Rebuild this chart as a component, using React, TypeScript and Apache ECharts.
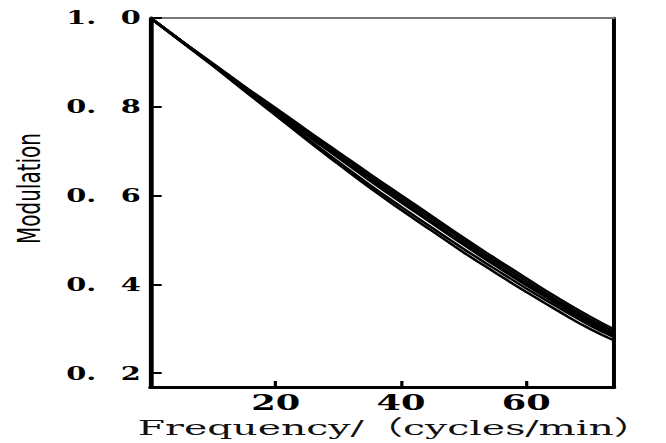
import React, { useEffect, useRef } from "react";
import * as echarts from "echarts";

const frequencies = [0, 5, 10, 15, 20, 25, 30, 35, 40, 45, 50, 55, 60, 65, 70, 74];
const curveA = [1.0, 0.948, 0.897, 0.846, 0.797, 0.747, 0.698, 0.649, 0.601, 0.553, 0.505, 0.459, 0.414, 0.370, 0.329, 0.299];
const curveB = [1.0, 0.948, 0.896, 0.844, 0.794, 0.743, 0.693, 0.643, 0.595, 0.547, 0.499, 0.453, 0.408, 0.364, 0.323, 0.294];
const curveC = [1.0, 0.947, 0.895, 0.842, 0.791, 0.739, 0.689, 0.638, 0.589, 0.541, 0.493, 0.447, 0.402, 0.359, 0.318, 0.289];
const curveD = [1.0, 0.947, 0.894, 0.841, 0.789, 0.736, 0.685, 0.634, 0.585, 0.537, 0.489, 0.443, 0.398, 0.355, 0.314, 0.286];
const curveE = [1.0, 0.947, 0.893, 0.838, 0.784, 0.729, 0.676, 0.624, 0.575, 0.527, 0.480, 0.435, 0.391, 0.349, 0.309, 0.281];
const curveF = [1.0, 0.946, 0.892, 0.836, 0.781, 0.725, 0.671, 0.618, 0.568, 0.520, 0.472, 0.427, 0.383, 0.341, 0.301, 0.274];
const curves = [curveA, curveB, curveC, curveD, curveE, curveF];

const xTicks = [20, 40, 60];
const yTicks = [0.2, 0.4, 0.6, 0.8, 1.0];
const xName = "Frequency/（cycles/min）";
const yName = "Modulation";

const FULL_W = 666;
const BASE_W = 416;
const STRETCH = FULL_W / BASE_W;

export default function App() {
  const ref = useRef<HTMLDivElement>(null);
  useEffect(() => {
    if (!ref.current) return;
    const chart = echarts.init(ref.current, undefined, { renderer: "svg" });
    const serif = "'DejaVu Serif', 'Liberation Serif', 'Noto Sans CJK SC', serif";
    chart.setOption({
      animation: false,
      backgroundColor: "#fff",
      grid: { left: 92, right: 32.5, top: 18, bottom: 56 },
      graphic: [
        {
          type: "text",
          x: 247,
          y: 428,
          scaleX: 1.17,
          style: {
            text: xName,
            fontFamily: serif,
            fontSize: 21,
            fill: "#111",
            align: "center",
            verticalAlign: "middle",
          },
        },
      ],
      xAxis: [
        {
          type: "value",
          min: 0,
          max: 74,
          position: "bottom",
          axisLine: { show: true, onZero: false, lineStyle: { color: "#000", width: 3 } },
          axisTick: {
            show: true,
            inside: true,
            length: 6,
            customValues: xTicks,
            lineStyle: { color: "#000", width: 2 },
          },
          axisLabel: {
            show: true,
            customValues: xTicks,
            margin: 4,
            fontFamily: serif,
            fontWeight: "bold",
            fontSize: 22,
            color: "#000",
          },
          splitLine: { show: false },
        },
        {
          type: "value",
          min: 0,
          max: 74,
          position: "top",
          axisLine: { show: true, onZero: false, lineStyle: { color: "#777", width: 2 } },
          axisTick: { show: false },
          axisLabel: { show: false },
          splitLine: { show: false },
        },
      ],
      yAxis: [
        {
          type: "value",
          min: 0.169,
          max: 1.0,
          position: "left",
          name: yName,
          nameLocation: "middle",
          nameRotate: 90,
          nameGap: 66,
          nameTextStyle: {
            fontFamily: "'DejaVu Sans', sans-serif",
            fontSize: 20,
            color: "#000",
            padding: [0, 0, 0, 28],
          },
          axisLine: { show: true, onZero: false, lineStyle: { color: "#000", width: 3 } },
          axisTick: {
            show: true,
            inside: true,
            length: 7,
            customValues: yTicks,
            lineStyle: { color: "#000", width: 2 },
          },
          axisLabel: {
            show: true,
            customValues: yTicks,
            margin: 6,
            fontFamily: serif,
            fontWeight: "bold",
            fontSize: 18,
            color: "#000",
            formatter: (v: number) => v.toFixed(1).replace(".", ".\u2002 "),
          },
          splitLine: { show: false },
        },
        {
          type: "value",
          min: 0.169,
          max: 1.0,
          position: "right",
          axisLine: { show: true, onZero: false, lineStyle: { color: "#000", width: 2.5 } },
          axisTick: { show: false },
          axisLabel: { show: false },
          splitLine: { show: false },
        },
      ],
      series: curves.map((c, i) => ({
        type: "line",
        name: "curve" + (i + 1),
        xAxisIndex: 0,
        yAxisIndex: 0,
        smooth: true,
        showSymbol: false,
        data: frequencies.map((f, j) => [f, c[j]]),
        lineStyle: { color: "#000", width: 2.1 },
      })),
    });
    return () => chart.dispose();
  }, []);
  return (
    <div
      ref={ref}
      style={{
        position: "absolute",
        left: 0,
        top: 0,
        width: BASE_W,
        height: 443,
        transform: `scaleX(${STRETCH})`,
        transformOrigin: "0 0",
      }}
    />
  );
}
